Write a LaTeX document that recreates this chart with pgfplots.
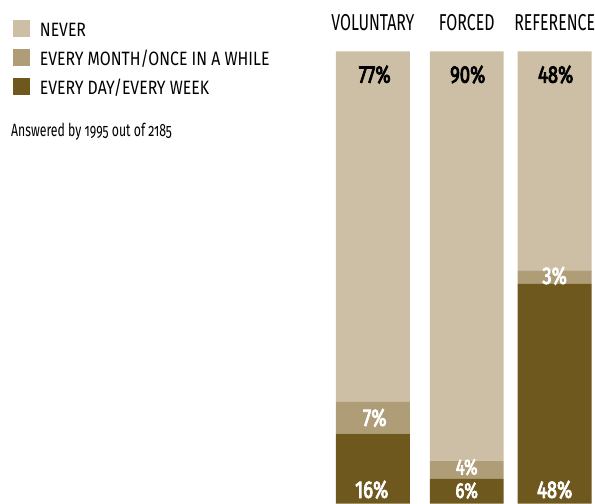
\documentclass[border=0pt]{standalone}
\usepackage{pgfplots}
\pgfplotsset{compat=1.18}
\usepackage{fontspec}
\setmainfont{Fira Sans}[FakeStretch=0.82]
\newfontfamily\titfam{Fira Sans}[FakeStretch=0.69]
\newfontfamily\notefam{Fira Sans}[FakeStretch=0.69, Numbers=OldStyle]
\newfontfamily\pctfam{Fira Sans}[FakeStretch=0.77, FakeBold=3.5]
\definecolor{never}{RGB}{205,191,165}
\definecolor{monthly}{RGB}{174,157,118}
\definecolor{daily}{RGB}{110,88,29}
\newcommand{\legfont}{\fontsize{19.3bp}{21bp}\selectfont}
\newcommand{\titfont}{\titfam\fontsize{23bp}{25bp}\selectfont}
\newcommand{\pctfont}{\pctfam\fontsize{24bp}{26bp}\selectfont}
\newcommand{\pctsmall}{\pctfam\fontsize{21.5bp}{23bp}\selectfont}
\newcommand{\notefont}{\notefam\fontsize{17.8bp}{19bp}\selectfont}
\pgfplotsset{base/.style={
  scale only axis, width=595bp, height=504bp,
  xmin=0, xmax=595, ymin=0, ymax=111.38,
  hide axis, clip=false}}
\begin{document}
\begin{tikzpicture}
\begin{axis}[
  base,
  ybar stacked, bar width=74,
  reverse legend,
  legend cell align=left,
  legend image code/.code={\fill[#1] (0bp,-8.5bp) rectangle (17bp,8.5bp);},
  legend style={at={(axis cs:13,106.96)}, anchor=north west, draw=none, fill=none,
    inner sep=0pt, outer sep=0pt, row sep=12bp, column sep=10bp, font=\legfont,
    nodes={inner sep=0pt, text height=17bp, text depth=0pt}},
]
\addplot[fill=daily, draw=none] coordinates {(373,15.5) (467,5.5) (555,48.6)};
\addplot[fill=monthly, draw=none] coordinates {(373,7.0) (467,4.0) (555,3.0)};
\addplot[fill=never, draw=none] coordinates {(373,77.5) (467,90.5) (555,48.4)};
\legend{EVERY DAY/EVERY WEEK, EVERY MONTH/ONCE IN A WHILE, NEVER}
\end{axis}
\begin{axis}[base]
% category titles
\node[font=\titfont, inner sep=0pt] at (axis cs:373,106.3) {VOLUNTARY};
\node[font=\titfont, inner sep=0pt] at (axis cs:467,106.3) {FORCED};
\node[font=\titfont, inner sep=0pt] at (axis cs:555,106.3) {REFERENCE};
% value labels
\node[font=\pctfont, text=black, inner sep=0pt] at (axis cs:375,94.9) {77\%};
\node[font=\pctfont, text=black, inner sep=0pt] at (axis cs:468,94.9) {90\%};
\node[font=\pctfont, text=black, inner sep=0pt] at (axis cs:556,94.9) {48\%};
\node[font=\pctfont, text=white, inner sep=0pt] at (axis cs:375,19.0) {7\%};
\node[font=\pctsmall, text=white, inner sep=0pt] at (axis cs:467,8.1) {4\%};
\node[font=\pctfont, text=white, inner sep=0pt] at (axis cs:555,50.4) {3\%};
\node[font=\pctfont, text=white, inner sep=0pt] at (axis cs:372,3.1) {16\%};
\node[font=\pctsmall, text=white, inner sep=0pt] at (axis cs:467,2.9) {6\%};
\node[font=\pctfont, text=white, inner sep=0pt] at (axis cs:555,3.1) {48\%};
% note
\node[font=\notefont, anchor=west, inner sep=0pt] at (axis cs:11,82.2) {Answered by 1995 out of 2185};
\end{axis}
\path (current axis.south west) rectangle (current axis.north east);
\end{tikzpicture}
\end{document}
